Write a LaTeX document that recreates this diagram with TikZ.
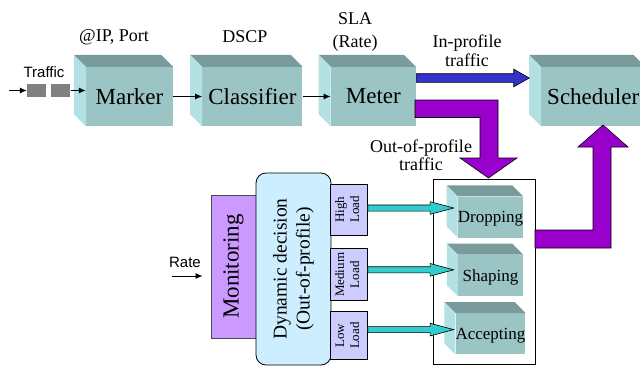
\documentclass[tikz,border=0pt]{standalone}
\usepackage{fontspec}
\setmainfont{Liberation Serif}
\setsansfont{Liberation Sans}
\usepackage{graphicx}
\usetikzlibrary{positioning,arrows.meta,shapes.arrows,calc}
\definecolor{boxfront}{HTML}{9BC4C4}
\definecolor{boxtop}{HTML}{7A9B9B}
\definecolor{boxside}{HTML}{B3E0E2}
\definecolor{monitc}{HTML}{CC99FF}
\definecolor{decisc}{HTML}{CCEEFF}
\definecolor{loadc}{HTML}{CCCCFF}
\definecolor{okc}{HTML}{33CCCC}
\definecolor{inprof}{HTML}{3333CC}
\definecolor{outprof}{HTML}{9900CC}
\tikzset{
	block/.style={rectangle, fill=boxfront, inner sep=1pt, minimum height=59pt, font=\fontsize{23}{25}\selectfont},
	action/.style={rectangle, fill=boxfront, inner sep=0pt, minimum width=65pt, minimum height=41pt, text depth=0pt, font=\fontsize{17}{19}\selectfont},
	load/.style={rectangle, draw=black, line width=0.8pt, fill=loadc, minimum width=37pt, inner sep=0pt, font=\fontsize{13}{15}\selectfont},
	lbl/.style={inner sep=0pt, align=center, font=\fontsize{18}{20}\selectfont},
	sans/.style={inner sep=0pt, font=\sffamily\fontsize{15}{15}\selectfont},
	packet/.style={rectangle, fill=black!50, minimum width=19pt, minimum height=13pt, inner sep=0pt},
	fatarrow/.style={single arrow, draw=black, line width=0.6pt, inner xsep=0pt, anchor=west},
	edge/.style={-{Latex[length=7pt,width=6pt]}, line width=1pt}
}
\begin{document}
\begin{tikzpicture}[x=1pt,y=-1pt]
\path[use as bounding box] (0,0) rectangle (640,367);
\clip (0,0) rectangle (640,367);
% upper chain
\node[block, minimum width=87pt] (marker) at (129.5,96.5) {Marker};
\node[block, minimum width=100pt, right=29pt of marker] (classifier) {Classifier};
\node[block, minimum width=85pt, right=28pt of classifier] (meter) {Meter};
\node[block, minimum width=104pt, right=125pt of meter] (scheduler) {Scheduler};
\node[lbl] (ipport) at (114,37) {@IP, Port};
\node[lbl] (dscp) at (245,37) {DSCP};
\node[lbl, font=\fontsize{18}{22.5}\selectfont] (sla) at (355,32) {SLA\\(Rate)};
\node[lbl, font=\fontsize{18}{19}\selectfont] (inlbl) at (467,51) {In-profile\\traffic};
\node[lbl, font=\fontsize{18}{16.5}\selectfont] (outlbl) at (421,155) {Out-of-profile\\traffic};
\node[sans] (traffic) at (44,72) {Traffic};
\node[packet] (pk1) at (36.5,90.5) {};
\node[packet, right=5pt of pk1] (pk2) {};
\coordinate (trafin) at (9,90.5);

% lower part
\node[draw=black!70, line width=0.8pt, fill=monitc, minimum width=45pt, minimum height=143pt, inner sep=0pt,
	font=\fontsize{23}{25}\selectfont] (monitor) at (233.5,266.5) {\rotatebox{90}{Monitoring}};
\node[draw=black, line width=0.8pt, rounded corners=10pt, fill=decisc, minimum width=75pt, minimum height=192pt, inner sep=0pt,
	font=\fontsize{19.5}{23}\selectfont] (decision) at (293.5,269)
	{\rotatebox{90}{\begin{tabular}{@{}c@{}}Dynamic decision\\(Out-of-profile)\end{tabular}}};
\node[load, minimum height=51pt] (high) at (348.5,209.5) {\rotatebox{90}{\begin{tabular}{@{}c@{}}High\\Load\end{tabular}}};
\node[load, minimum height=52pt, below=13pt of high] (medium) {\rotatebox{90}{\begin{tabular}{@{}c@{}}Medium\\Load\end{tabular}}};
\node[load, minimum height=48pt, below=10pt of medium] (low) {\rotatebox{90}{\begin{tabular}{@{}c@{}}Low\\Load\end{tabular}}};
\node[sans] (rate) at (185,262) {Rate};
\coordinate (ratein) at (172,276);

\node[draw=black, line width=0.8pt, minimum width=102pt, minimum height=185pt] (outer) at (484,271.5) {};
\node[action] (drop) at (490.5,217) {Dropping};
\node[action, below=17pt of drop] (shaping) {Shaping};
\node[action, below=17pt of shaping] (accept) {Accepting};

% box faces
\foreach \b/\dep in {marker/12pt,classifier/12pt,meter/12pt,scheduler/12pt,drop/11pt,shaping/11pt,accept/11pt}{
	\fill[boxtop] (\b.north west) -- ++(-\dep,\dep) -- ([xshift=-\dep,yshift=\dep]\b.north east) -- (\b.north east) -- cycle;
	\fill[boxside] (\b.north west) -- ++(-\dep,\dep) -- ([xshift=-\dep,yshift=\dep]\b.south west) -- (\b.south west) -- cycle;
}

\draw[edge] (trafin) -- (pk1);
\draw[edge] (pk2) -- (pk2 -| marker.west);
\draw[edge] (marker) -- (classifier);
\draw[edge] (classifier) -- (meter);
\draw[edge, shorten >=8pt] (ratein) -- (ratein -| monitor.west);

\node[fatarrow, fill=inprof, inner ysep=4pt, single arrow head extend=4.5pt, single arrow tip angle=59,
	minimum height=113pt] (inarrow) at ([yshift=18.5pt]meter.east) {};
\foreach \l/\s in {high/1.5pt,medium/5pt,low/6pt}
	\node[fatarrow, fill=okc, inner ysep=2.75pt, single arrow head extend=3.25pt, single arrow tip angle=30,
		minimum height=86pt] (\l arrow) at ([yshift=\s]\l.east) {};

% out-of-profile and back to scheduler
\filldraw[fill=outprof, draw=black, line width=0.6pt] (415,100) -- (498,100) -- (498,158) -- (517,158) -- (488.5,178)
	-- (460,158) -- (480,158) -- (480,117.5) -- (415,117.5) -- cycle;
\filldraw[fill=outprof, draw=black, line width=0.6pt] (535,230) -- (593,230) -- (593,147) -- (578,147) -- (603,125)
	-- (628,147) -- (611,147) -- (611,248) -- (535,248) -- cycle;
\end{tikzpicture}
\end{document}
